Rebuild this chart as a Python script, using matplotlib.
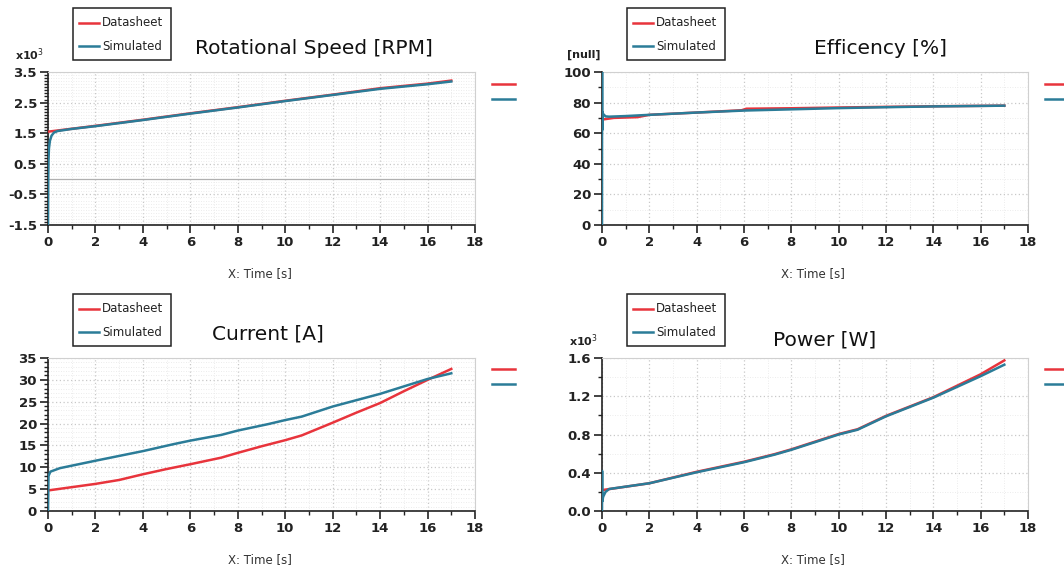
import numpy as np
import matplotlib
matplotlib.use("Agg")
import matplotlib.pyplot as plt
from matplotlib.lines import Line2D
from matplotlib.ticker import MultipleLocator, FormatStrFormatter

# ---------------- data ----------------
speed_ds_t = [0.0, 2, 4, 6, 8, 10, 12, 14, 16, 17]
speed_ds_v = [1.55, 1.74, 1.94, 2.15, 2.35, 2.56, 2.76, 2.97, 3.12, 3.22]
speed_sim_t = [0.0, 0.01, 0.02, 0.04, 0.08, 0.15, 0.25, 0.4, 1.0, 2, 4, 6, 8, 10, 12, 14, 16, 17]
speed_sim_v = [-1.5, 0.0, 0.6, 1.0, 1.25, 1.42, 1.52, 1.57, 1.64, 1.73, 1.93, 2.14, 2.34, 2.55, 2.75, 2.95, 3.10, 3.19]

eff_ds_t = [0.05, 0.5, 1.5, 2, 4, 5.9, 6.1, 8, 10, 12, 14, 17]
eff_ds_v = [69.0, 70.0, 70.5, 72.0, 73.5, 75.0, 76.0, 76.3, 76.8, 77.2, 77.6, 78.0]
eff_sim_t = [0.0, 0.003, 0.006, 0.01, 0.05, 0.15, 0.3, 1.0, 2, 4, 6, 8, 10, 12, 14, 17]
eff_sim_v = [0.0, 100.0, 62.0, 74.0, 72.5, 71.0, 70.8, 71.2, 72.0, 73.5, 74.8, 75.6, 76.4, 77.0, 77.5, 78.0]

cur_ds_t = [0.0, 2, 3, 4, 5, 6, 7.3, 8, 9, 10, 10.7, 12, 13, 14, 15, 16, 17]
cur_ds_v = [4.7, 6.2, 7.1, 8.4, 9.6, 10.7, 12.2, 13.3, 14.8, 16.2, 17.3, 20.2, 22.5, 24.7, 27.4, 30.0, 32.5]
cur_sim_t = [0.0, 0.02, 0.1, 0.5, 2, 4, 5.3, 6, 7.3, 8, 9.3, 10, 10.7, 12, 14, 16, 17]
cur_sim_v = [0.0, 8.0, 9.0, 9.8, 11.5, 13.7, 15.3, 16.1, 17.4, 18.4, 19.9, 20.8, 21.6, 23.9, 26.8, 30.2, 31.5]

pow_ds_t = [0.05, 2, 4, 6, 7.3, 8, 10, 10.8, 12, 14, 16, 17]
pow_ds_v = [0.22, 0.29, 0.41, 0.515, 0.595, 0.645, 0.805, 0.855, 0.995, 1.19, 1.43, 1.575]
pow_sim_t = [0.0, 0.005, 0.01, 0.05, 0.15, 0.3, 2, 4, 6, 7.3, 8, 10, 10.8, 12, 14, 16, 17]
pow_sim_v = [0.0, 0.42, 0.10, 0.15, 0.20, 0.23, 0.29, 0.405, 0.51, 0.59, 0.64, 0.80, 0.85, 0.99, 1.185, 1.41, 1.53]

series_names = ["Datasheet", "Simulated"]
titles = ["Rotational Speed [RPM]", "Efficency [%]", "Current [A]", "Power [W]"]
unit_labels = ["x10$^3$", "[null]", "", "x10$^3$"]
xlabel = "X: Time [s]"

RED = "#e8343c"
TEAL = "#2b7c98"

W, H = 1064, 574
fig = plt.figure(figsize=(W / 100, H / 100), dpi=100)
plt.rcParams['font.family'] = ['DejaVu Sans']


def fx(px):
    return px / W


def fy(py):
    return 1 - py / H


panels = [
    dict(box=(48, 72, 475, 225), ds=(speed_ds_t, speed_ds_v), sim=(speed_sim_t, speed_sim_v),
         ylim=(-1.5, 3.5), ymaj=1.0, ymin=0.1, fmt="%.1f", title_xy=(314, 48), leg=(73, 8), zero=True),
    dict(box=(602, 72, 1028, 225), ds=(eff_ds_t, eff_ds_v), sim=(eff_sim_t, eff_sim_v),
         ylim=(0, 100), ymaj=20, ymin=10, fmt="%d", title_xy=(880, 48), leg=(627, 8), zero=False),
    dict(box=(48, 358, 475, 511), ds=(cur_ds_t, cur_ds_v), sim=(cur_sim_t, cur_sim_v),
         ylim=(0, 35), ymaj=5, ymin=1, fmt="%d", title_xy=(268, 334), leg=(73, 294), zero=False),
    dict(box=(602, 358, 1028, 511), ds=(pow_ds_t, pow_ds_v), sim=(pow_sim_t, pow_sim_v),
         ylim=(0, 1.6), ymaj=0.4, ymin=0.2, fmt="%.1f", title_xy=(825, 340), leg=(627, 294), zero=False),
]

for i, p in enumerate(panels):
    l, t, r, b = p["box"]
    ax = fig.add_axes([fx(l), fy(b), fx(r - l), (b - t) / H])
    ax.plot(p["ds"][0], p["ds"][1], color=RED, lw=1.8, zorder=3)
    ax.plot(p["sim"][0], p["sim"][1], color=TEAL, lw=1.8, zorder=4)
    ax.set_xlim(0, 18)
    ax.set_ylim(*p["ylim"])
    ax.xaxis.set_major_locator(MultipleLocator(2))
    ax.xaxis.set_minor_locator(MultipleLocator(1))
    ax.yaxis.set_major_locator(MultipleLocator(p["ymaj"]))
    ax.yaxis.set_minor_locator(MultipleLocator(p["ymin"]))
    ax.yaxis.set_major_formatter(FormatStrFormatter(p["fmt"]))
    if i == 0:
        ax.set_yticks([-1.5, -0.5, 0.5, 1.5, 2.5, 3.5])
    ax.grid(which="major", color="#c8c8c8", linestyle=(0, (1, 2)), lw=0.9)
    ax.grid(which="minor", color="#e6e6e6", linestyle=(0, (1, 2)), lw=0.6)
    if p["zero"]:
        ax.axhline(0, color="#b0b0b0", lw=0.9, zorder=2)
    for s in ["top", "right"]:
        ax.spines[s].set_color("#d0d0d0")
        ax.spines[s].set_linewidth(0.8)
    for s in ["left", "bottom"]:
        ax.spines[s].set_color("#222222")
        ax.spines[s].set_linewidth(1.2)
    ax.tick_params(which="major", length=6, width=1.2, color="#222222", direction="out",
                   labelsize=9.5, pad=2)
    ax.tick_params(which="minor", length=3, width=1.0, color="#222222", direction="out")
    for lab in ax.get_xticklabels() + ax.get_yticklabels():
        lab.set_fontweight("bold")
        lab.set_color("#222222")
    ax.set_axisbelow(True)

    # title
    fig.text(fx(p["title_xy"][0]), fy(p["title_xy"][1]), titles[i], fontsize=14.5,
             ha="center", va="center", color="#111111")
    # x label
    fig.text(fx((l + r) / 2 - 2), fy(b + 49), xlabel, fontsize=8.5, ha="center", va="center",
             color="#333333")
    # unit label
    if unit_labels[i]:
        fig.text(fx(l - 18), fy(t - 17), unit_labels[i], fontsize=8, fontweight="bold",
                 ha="center", va="center", color="#222222")
    # legend box
    lx, ly = p["leg"]
    bw, bh = 98, 52
    rect = plt.Rectangle((fx(lx), fy(ly + bh)), fx(bw), bh / H, transform=fig.transFigure,
                         fill=True, facecolor="white", edgecolor="#222222", lw=1.1)
    fig.add_artist(rect)
    for k, (name, col) in enumerate(zip(series_names, [RED, TEAL])):
        yy = ly + 15 + 23 * k
        fig.add_artist(Line2D([fx(lx + 6), fx(lx + 26)], [fy(yy), fy(yy)], color=col, lw=1.8,
                              transform=fig.transFigure))
        fig.text(fx(lx + 29), fy(yy), name, fontsize=8.5, ha="left", va="center", color="#222222")
    # right-side stubs of the cropped legend
    for k, col in enumerate([RED, TEAL]):
        yy = t + 12 + 15 * k if i < 2 else t + 11 + 15 * k
        fig.add_artist(Line2D([fx(r + 17), fx(min(r + 40, W))], [fy(yy), fy(yy)], color=col, lw=1.8,
                              transform=fig.transFigure))

fig.savefig("out.png", dpi=100)
